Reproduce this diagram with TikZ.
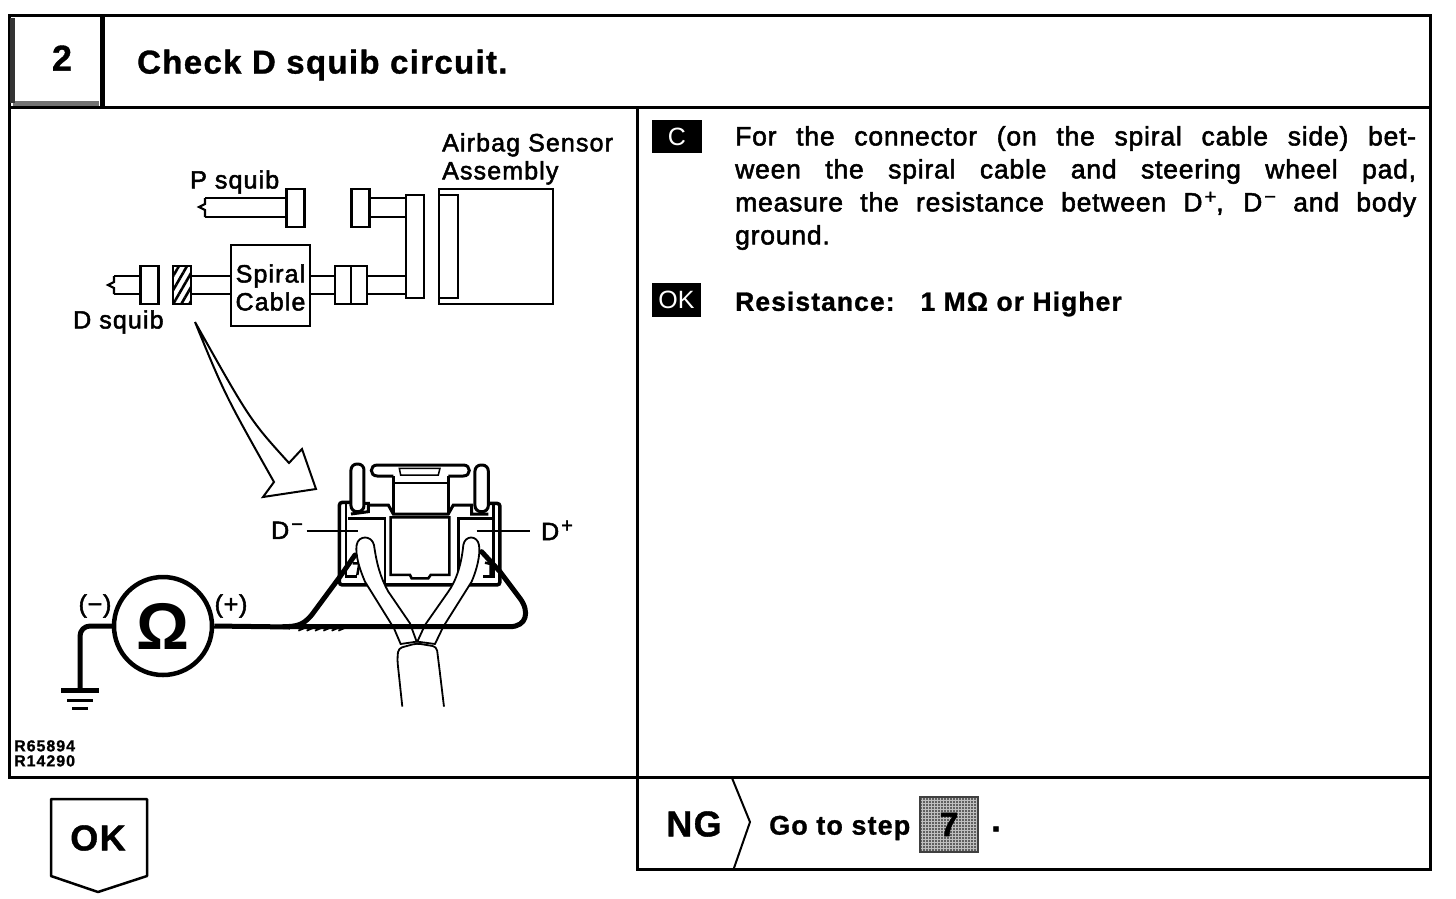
\documentclass[tikz,border=0pt]{standalone}
\usepackage{fontspec}
\setmainfont{Liberation Sans}
\newfontfamily\scanfont[FakeBold=2,LetterSpace=3]{Liberation Sans}
\newfontfamily\labelfont[FakeBold=2,LetterSpace=4.5]{Liberation Sans}
\newfontfamily\boldfont[FakeBold=1,LetterSpace=4]{Liberation Sans Bold}
\newfontfamily\reffont[FakeBold=1,LetterSpace=6]{Liberation Sans Bold}
\newcommand\supsign[1]{\kern2pt\raisebox{8pt}{\fontsize{20}{20}\selectfont #1}}
\usetikzlibrary{patterns.meta}
\tikzset{
  plug/.style={draw,line width=2.2pt,inner sep=0pt,outer sep=0pt,minimum width=#1,minimum height=38pt},
  plug/.default=18pt,
  partlabel/.style={font=\fontsize{25}{28}\labelfont,inner sep=0pt},
  boldlabel/.style={font=\fontsize{#1}{#1}\boldfont,inner sep=0pt},
  tag/.style={fill=black,text=white,inner sep=0pt,minimum width=50pt,minimum height=33pt,font=\fontsize{25}{25}\selectfont},
  wire/.style={line width=2.2pt},
  probe/.style={line width=5pt,line cap=round,line join=round}
}
\begin{document}
\begin{tikzpicture}[x=1pt,y=-1pt]
  \useasboundingbox (0,0) rectangle (1456,898);
  % frames
  \draw[line width=3pt] (9,15) rectangle (1430,777);
  \draw[line width=3pt] (9,107) -- (1430,107) (637,107) -- (637,869) -- (1430,869) -- (1430,777);
  \draw[line width=5pt] (102,15) -- (102,107);
  \draw[line width=5pt,black!55] (13,103) -- (99,103);
  \draw[line width=5pt,black!80] (12,18) -- (12,103);
  \node[boldlabel=36] (stepno) at (62,58) {2};
  \node[boldlabel=33,anchor=west] (title) at (137,65) {Check D squib circuit.};
  % top sketch
  \node[plug] (psquib) at (295.5,208) {};
  \node[plug] (ptop) at (360.5,208) {};
  \node[plug,minimum height=103pt] (bar) at (415,246.5) {};
  \node[plug=114pt,minimum height=115pt] (sensor) at (496,246.5) {};
  \node[plug=19pt,minimum height=103pt] (sensorin) at (448.5,246.5) {};
  \node[plug=79pt,minimum height=81pt] (spiral) at (270.5,285.5) {};
  \node[plug=16pt] (midl) at (343,285) {};
  \node[plug=16pt,right=0pt] (midr) at (351,285) {};
  \node[plug,pattern={Lines[angle=60,distance=7pt,line width=2.6pt]}] (hatch) at (182,285) {};
  \node[plug] (dsquib) at (149.5,285) {};
  \coordinate (pend) at (205,207);
  \coordinate (dend) at (114,285);
  \foreach \y in {198,217}
  {
    \draw[wire] (psquib.west |- 0,\y) -- (pend |- 0,\y);
    \draw[wire] (ptop.east |- 0,\y) -- (bar.west |- 0,\y);
  }
  \foreach \y in {276,294}
  {
    \draw[wire] (dsquib.west |- 0,\y) -- (dend |- 0,\y);
    \draw[wire] (hatch.east |- 0,\y) -- (spiral.west |- 0,\y);
    \draw[wire] (spiral.east |- 0,\y) -- (midl.west |- 0,\y);
    \draw[wire] (midr.east |- 0,\y) -- (bar.west |- 0,\y);
  }
  \draw[wire] (pend |- 0,198) -- (205,204) -- (199,207) -- (205,210) -- (pend |- 0,217);
  \draw[wire] (dend |- 0,276) -- (114,282) -- (108,285) -- (114,288) -- (dend |- 0,294);
  \node[partlabel,anchor=west] (psquiblabel) at (190,182) {P squib};
  \node[partlabel,anchor=west] (dsquiblabel) at (73,322) {D squib};
  \node[partlabel,align=left,anchor=north west] (sensorlabel) at (442,133) {Airbag Sensor\\Assembly};
  \node[partlabel,align=center] (spirallabel) at (270.5,287.5) {Spiral\\Cable};
  % big arrow
  \draw[line width=2pt,line join=miter] (195,322) .. controls (225,395) .. (274,482) -- (263,497)
    -- (316,489) -- (302,449) -- (289,463) .. controls (250,420) .. (195,322);
  % connector, coordinates of the 3x crop
  \begin{scope}[shift={(240,440)},x=0.3333pt,y=-0.3333pt]
    \draw[line width=3pt,rounded corners=6pt] (333,215) rectangle (372,72);
    \draw[line width=3pt,rounded corners=6pt] (705,215) rectangle (745,75);
    \draw[line width=3pt] (460,108) -- (412,108) .. controls (388,108) and (388,75) .. (412,75) -- (670,75)
      .. controls (694,75) and (694,108) .. (670,108) -- (625,108);
    \draw[line width=1.5pt] (478,85) -- (600,85) -- (595,105) -- (482,105) -- cycle;
    \draw[line width=3.5pt] (460,108) -- (460,220) (625,108) -- (625,220);
    \draw[line width=2pt] (460,130) -- (625,130);
    \draw[line width=3.5pt,rounded corners=3pt] (333,187) -- (298,187) -- (298,435) -- (780,435) -- (780,190) -- (745,190);
    \draw[line width=3pt] (372,190) -- (385,190) -- (385,215) -- (333,222);
    \draw[line width=3pt] (385,195) -- (445,195) -- (460,222) -- (625,222) -- (640,195) -- (695,195) -- (695,222) -- (745,222);
    \draw[line width=2.5pt] (318,190) -- (318,410) -- (350,410) (760,195) -- (760,410) -- (730,410);
    \draw[line width=2.5pt] (325,235) -- (435,235) -- (435,430);
    \draw[line width=2.5pt] (655,430) -- (655,235) -- (755,235);
    \draw[line width=2.5pt] (452,232) -- (628,232) -- (628,405) -- (572,405) -- (565,415) -- (515,415) -- (510,405) -- (452,405) -- cycle;
    \draw[line width=2.5pt] (338,370) -- (358,370) -- (352,405);
    \draw[line width=2.5pt] (735,368) -- (752,372) -- (752,405);
    % cable tubes
    \draw[line width=1.8pt,fill=white] (375,425) .. controls (360,390) and (345,345) .. (350,315)
      .. controls (355,285) and (395,285) .. (402,315) .. controls (410,370) and (420,410) .. (445,455) -- (510,550) -- (530,605) -- (482,612) -- (462,565) -- cycle;
    \draw[line width=1.8pt,fill=white] (695,425) .. controls (710,390) and (722,345) .. (717,315)
      .. controls (712,285) and (675,285) .. (670,315) .. controls (665,370) and (650,420) .. (625,455) -- (555,555) -- (532,605) -- (585,612) -- (610,560) -- cycle;
    \draw[line width=1.8pt,fill=white,rounded corners=4pt] (487,800) -- (472,660) -- (475,625) -- (530,610) -- (590,620) -- (600,700) -- (612,800);
    % probes
    \draw[probe] (345,345) -- (300,410) -- (215,525) .. controls (190,555) and (170,560) .. (130,560);
    \draw[probe] (150,560) -- (810,560) .. controls (860,560) and (870,515) .. (840,475) -- (780,395) -- (725,335);
    \foreach \x in {175,200,225,250,275,295}
      \draw[line width=1.8pt] (\x,572) -- (\x+38,556);
    \draw[line width=2.2pt] (200,272) -- (355,272) (710,272) -- (870,272);
    \node[font=\fontsize{25}{25}\scanfont,inner sep=0pt,anchor=west] (dminus) at (93,271) {D\supsign{−}};
    \node[font=\fontsize{25}{25}\scanfont,inner sep=0pt,anchor=west] (dplus) at (903,271) {D\supsign{+}};
  \end{scope}
  % ohmmeter
  \node[draw,circle,line width=4.5pt,minimum size=98pt,inner sep=0pt,font=\fontsize{66}{66}\bfseries\selectfont] (meter) at (163,626) {Ω};
  \coordinate (gnd) at (80,690);
  \draw[probe,rounded corners=10pt,line cap=butt] (meter.west) -- (80,626) -- (gnd);
  \draw[probe,line cap=butt] (meter.east) -- (290,627);
  \draw[line width=5pt] ([xshift=-19pt]gnd) -- ([xshift=19pt]gnd);
  \draw[line width=3pt] ([xshift=-13pt,yshift=-10pt]gnd) -- ([xshift=13pt,yshift=-10pt]gnd);
  \draw[line width=3pt] ([xshift=-8pt,yshift=-18pt]gnd) -- ([xshift=8pt,yshift=-18pt]gnd);
  \node[font=\fontsize{25}{25}\scanfont,inner sep=0pt] (minus) at (95,606) {(−)};
  \node[font=\fontsize{25}{25}\scanfont,inner sep=0pt] (plus) at (231,606) {(+)};
  \node[font=\fontsize{16}{15}\reffont,align=left,anchor=north west,inner sep=0pt] (refno) at (14,740) {R65894\\R14290};
  % right column
  \node[tag] (ctag) at (677,136.5) {C};
  \node[tag,minimum width=49pt,minimum height=34pt] (oktag) at (676.5,300) {OK};
  \node[font=\fontsize{26.5}{33}\scanfont,anchor=north west,inner sep=0pt,align=left] (checktext) at (735,126) {%
    \makebox[681pt][s]{For the connector (on the spiral cable side) bet-}\\
    \makebox[681pt][s]{ween the spiral cable and steering wheel pad,}\\
    \makebox[681pt][s]{measure the resistance between D\supsign{+}, D\supsign{−} and body}\\
    ground.};
  \node[boldlabel=26.5,anchor=west] (limit) at (735,304) {Resistance:\hspace{26pt}1 MΩ or Higher};
  % result row
  \draw[line width=2pt] (732,778) -- (750,822) -- (734,868);
  \node[boldlabel=36] (nglabel) at (694,824) {NG};
  \node[boldlabel=27,anchor=west] (gotext) at (769,828) {Go to step};
  \node[draw=black!75,line width=2pt,preaction={fill=black!25},pattern={Dots[distance=3pt,radius=0.9pt]},minimum width=58pt,minimum height=55pt,inner sep=0pt,boldlabel=34] (stepseven) at (949,824.5) {7};
  \node[boldlabel=34] (dot) at (996,829) {.};
  \draw[line width=2.5pt,line join=round] (51,799) -- (147,799) -- (147,876) -- (98,892) -- (51,876) -- cycle;
  \node[boldlabel=36] (oklabel) at (98,838) {OK};
\end{tikzpicture}
\end{document}
